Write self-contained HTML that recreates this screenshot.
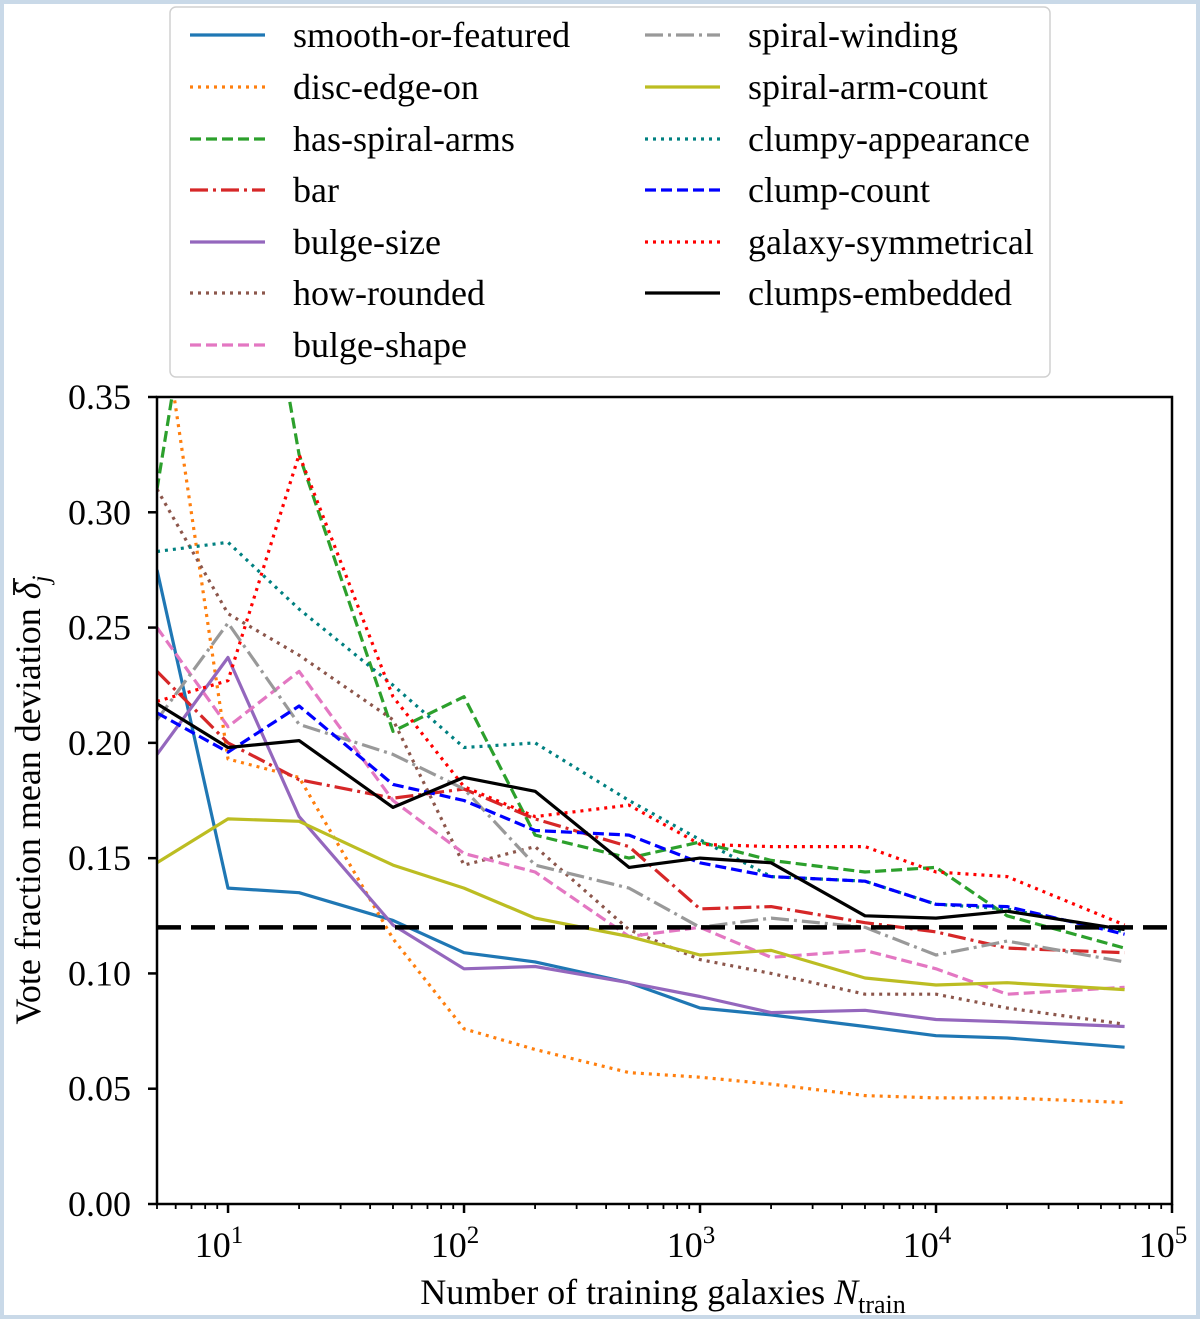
<!DOCTYPE html>
<html><head><meta charset="utf-8"><style>
body{margin:0;background:#fff;}
#wrap{position:relative;width:1200px;height:1319px;background:#fff;overflow:hidden;}
#border{position:absolute;left:0;top:0;width:1200px;height:1319px;box-sizing:border-box;border:4px solid #c9d9e8;pointer-events:none;}
svg{position:absolute;left:0;top:0;font-family:"Liberation Serif",serif;}
</style></head><body>
<div id="wrap">
<svg id="chart" width="1200" height="1319" viewBox="0 0 1200 1319"></svg>
<script>
const nTrain = [5,10,20,50,100,200,500,1000,2000,5000,10000,20000,63000];
const seriesNames = ["smooth-or-featured","disc-edge-on","has-spiral-arms","bar","bulge-size","how-rounded","bulge-shape","spiral-winding","spiral-arm-count","clumpy-appearance","clump-count","galaxy-symmetrical","clumps-embedded"];
const smoothOrFeatured = [0.275,0.137,0.135,0.123,0.109,0.105,0.096,0.085,0.082,0.077,0.073,0.072,0.068];
const discEdgeOn = [0.40,0.193,0.185,0.115,0.076,0.067,0.057,0.055,0.052,0.047,0.046,0.046,0.044];
const hasSpiralArms = [0.31,0.50,0.325,0.205,0.22,0.16,0.15,0.157,0.149,0.144,0.146,0.125,0.111];
const bar = [0.231,0.200,0.184,0.176,0.18,0.167,0.155,0.128,0.129,0.122,0.118,0.111,0.109];
const bulgeSize = [0.195,0.237,0.168,0.121,0.102,0.103,0.096,0.090,0.083,0.084,0.080,0.079,0.077];
const howRounded = [0.31,0.256,0.238,0.21,0.147,0.155,0.119,0.106,0.100,0.091,0.091,0.085,0.078];
const bulgeShape = [0.25,0.207,0.231,0.175,0.152,0.144,0.116,0.120,0.107,0.110,0.102,0.091,0.094];
const spiralWinding = [0.21,0.252,0.208,0.195,0.18,0.147,0.137,0.120,0.124,0.120,0.108,0.114,0.105];
const spiralArmCount = [0.148,0.167,0.166,0.147,0.137,0.124,0.116,0.108,0.110,0.098,0.095,0.096,0.093];
const clumpyAppearance = [0.283,0.287,0.258,0.225,0.198,0.200,0.175,0.158,0.142,0.140,0.130,0.128,0.118];
const clumpCount = [0.213,0.196,0.216,0.182,0.175,0.162,0.160,0.148,0.142,0.140,0.130,0.129,0.117];
const galaxySymmetrical = [0.218,0.227,0.325,0.220,0.181,0.168,0.173,0.156,0.155,0.155,0.144,0.142,0.121];
const clumpsEmbedded = [0.217,0.198,0.201,0.172,0.185,0.179,0.146,0.150,0.148,0.125,0.124,0.127,0.119];
const threshold = [0.12];
const yTicks = [0,0.05,0.10,0.15,0.20,0.25,0.30,0.35];
const xTickExp = [1,2,3,4,5];

const NS="http://www.w3.org/2000/svg";
const svg=document.getElementById('chart');
const L=157,R=1172,T=397,B=1204;
const xMinLog=Math.log10(5), xMaxLog=5;
function xs(v){return L+(Math.log10(v)-xMinLog)/(xMaxLog-xMinLog)*(R-L);}
function ys(v){return B-(v/0.35)*(B-T);}
function mk(tag,attrs,parent){const e=document.createElementNS(NS,tag);for(const k in attrs)e.setAttribute(k,attrs[k]);(parent||svg).appendChild(e);return e;}

const defs=mk('defs',{});
const cp=mk('clipPath',{id:'plotclip'},defs);
mk('rect',{x:L,y:T,width:R-L,height:B-T},cp);

const styles={solid:'',dotted:'3 5',dashed:'11 5',dashdot:'18 5 3 5'};
const seriesData=[smoothOrFeatured,discEdgeOn,hasSpiralArms,bar,bulgeSize,howRounded,bulgeShape,spiralWinding,spiralArmCount,clumpyAppearance,clumpCount,galaxySymmetrical,clumpsEmbedded];
const colors=["#1f77b4","#ff7f0e","#2ca02c","#d62728","#9467bd","#8c564b","#e377c2","#999999","#bcbd22","#008080","#0000ff","#ff0000","#000000"];
const dashes=["solid","dotted","dashed","dashdot","solid","dotted","dashed","dashdot","solid","dotted","dashed","dotted","solid"];

const g=mk('g',{'clip-path':'url(#plotclip)'});


seriesData.forEach((arr,i)=>{
  const d=arr.map((v,j)=>(j?'L':'M')+xs(nTrain[j]).toFixed(1)+','+ys(v).toFixed(1)).join(' ');
  const p=mk('path',{d:d,fill:'none',stroke:colors[i],'stroke-width':3.2,'stroke-dasharray':styles[dashes[i]],'stroke-linejoin':'round'},g);
  
  
});
const th=mk('line',{x1:L,x2:R,y1:ys(threshold[0]),y2:ys(threshold[0]),stroke:'#000','stroke-width':4.5,'stroke-dasharray':'24 10'},g);



const frame=mk('rect',{x:L,y:T,width:R-L,height:B-T,fill:'none',stroke:'#000','stroke-width':2.5});



yTicks.forEach(v=>{
  const y=ys(v);
  mk('line',{x1:L-9,x2:L,y1:y,y2:y,stroke:'#000','stroke-width':2.5});
  const t=mk('text',{x:131,y:y+12,'text-anchor':'end','font-size':36});
  t.textContent=v.toFixed(2);
  
  
});
xTickExp.forEach(e=>{
  const x=xs(Math.pow(10,e));
  mk('line',{x1:x,x2:x,y1:B,y2:B+9,stroke:'#000','stroke-width':2.5});
  for(let m=2;m<10;m++){const v=m*Math.pow(10,e-1);if(v<5)continue;const xm=xs(v);if(xm>R)continue;mk('line',{x1:xm,x2:xm,y1:B,y2:B+5,stroke:'#000','stroke-width':1.8});}
  const t=mk('text',{x:x-9,y:B+53,'text-anchor':'middle','font-size':36});
  t.textContent='10';
  const s=mk('tspan',{dy:-14,'font-size':25},t);s.textContent=String(e);
  
  
});
</script>
<svg width="1200" height="1319" style="pointer-events:none">
<text x="663" y="1304" text-anchor="middle" font-size="36">Number of training galaxies <tspan font-style="italic">N</tspan><tspan font-size="26" dy="9">train</tspan></text>
<g transform="translate(40,800) rotate(-90)">
<text x="0" y="0" text-anchor="middle" font-size="36">Vote fraction mean deviation <tspan font-style="italic">δ</tspan><tspan font-size="25" font-style="italic" dy="9">j</tspan></text>
<line x1="205" x2="222" y1="-26" y2="-26" stroke="#000" stroke-width="1.8"/>
</g>
<g>
<rect x="170" y="7" width="880" height="370" rx="6" fill="#fff" stroke="#d0d0d0" stroke-width="1.5"/>
<g font-size="36">
<g><line x1="190" x2="265" y1="35" y2="35" stroke="#1f77b4" stroke-width="3.2"/><text x="293" y="47">smooth-or-featured</text></g>
<g><line x1="190" x2="265" y1="87" y2="87" stroke="#ff7f0e" stroke-width="3.2" stroke-dasharray="3 5"/><text x="293" y="99">disc-edge-on</text></g>
<g><line x1="190" x2="265" y1="139" y2="139" stroke="#2ca02c" stroke-width="3.2" stroke-dasharray="11 5"/><text x="293" y="151">has-spiral-arms</text></g>
<g><line x1="190" x2="265" y1="190" y2="190" stroke="#d62728" stroke-width="3.2" stroke-dasharray="18 5 3 5"/><text x="293" y="202">bar</text></g>
<g><line x1="190" x2="265" y1="242" y2="242" stroke="#9467bd" stroke-width="3.2"/><text x="293" y="254">bulge-size</text></g>
<g><line x1="190" x2="265" y1="293" y2="293" stroke="#8c564b" stroke-width="3.2" stroke-dasharray="3 5"/><text x="293" y="305">how-rounded</text></g>
<g><line x1="190" x2="265" y1="345" y2="345" stroke="#e377c2" stroke-width="3.2" stroke-dasharray="11 5"/><text x="293" y="357">bulge-shape</text></g>
<g><line x1="645" x2="720" y1="35" y2="35" stroke="#999999" stroke-width="3.2" stroke-dasharray="18 5 3 5"/><text x="748" y="47">spiral-winding</text></g>
<g><line x1="645" x2="720" y1="87" y2="87" stroke="#bcbd22" stroke-width="3.2"/><text x="748" y="99">spiral-arm-count</text></g>
<g><line x1="645" x2="720" y1="139" y2="139" stroke="#008080" stroke-width="3.2" stroke-dasharray="3 5"/><text x="748" y="151">clumpy-appearance</text></g>
<g><line x1="645" x2="720" y1="190" y2="190" stroke="#0000ff" stroke-width="3.2" stroke-dasharray="11 5"/><text x="748" y="202">clump-count</text></g>
<g><line x1="645" x2="720" y1="242" y2="242" stroke="#ff0000" stroke-width="3.2" stroke-dasharray="3 5"/><text x="748" y="254">galaxy-symmetrical</text></g>
<g><line x1="645" x2="720" y1="293" y2="293" stroke="#000" stroke-width="3.2"/><text x="748" y="305">clumps-embedded</text></g>
</g></g>
</svg>
<div id="border"></div>
</div>
</body></html>
